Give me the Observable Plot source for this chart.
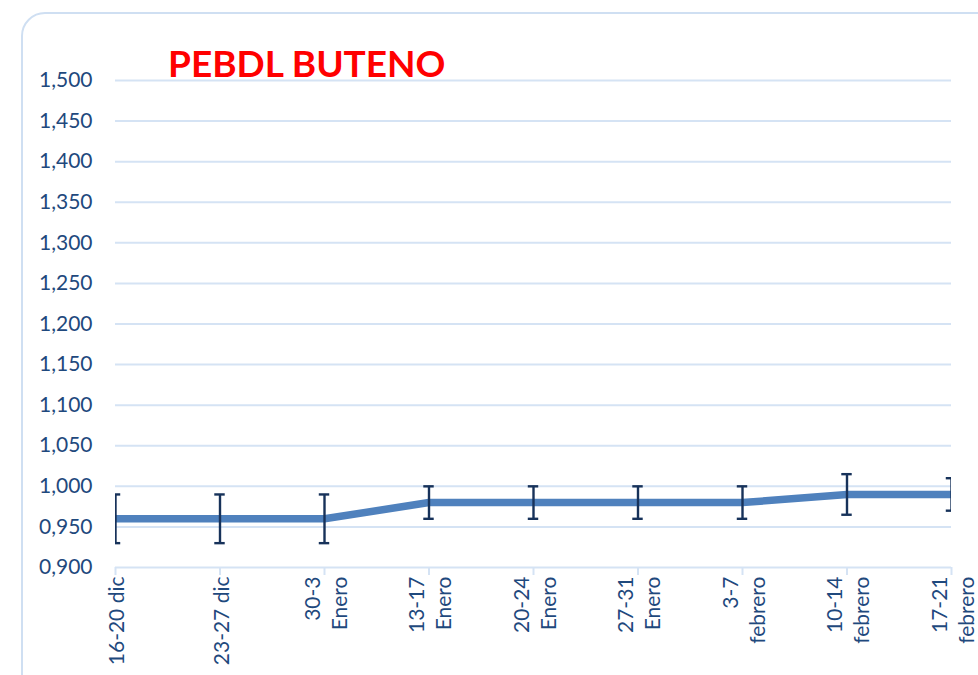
<!DOCTYPE html>
<html>
<head>
<meta charset="utf-8">
<script src="https://cdn.jsdelivr.net/npm/d3@7"></script>
<script src="https://cdn.jsdelivr.net/npm/@observablehq/plot@0.6"></script>
<style>
  html, body { margin: 0; padding: 0; background: #fff; width: 978px; height: 675px; overflow: hidden; }
  #wrap { position: relative; width: 978px; height: 675px; }
  #frame { position: absolute; left: 21px; top: 12px; width: 1000px; height: 700px;
           border: 2px solid #cfdff2; border-radius: 24px; box-sizing: border-box; }
  #title { position: absolute; left: 168px; top: 44px; font-family: Lato, "Open Sans", sans-serif;
           font-weight: 700; font-size: 37px; color: #ff0000; line-height: 1; white-space: nowrap; }
  #chart { position: absolute; left: 0; top: 0; }
</style>
</head>
<body>
<div id="wrap">
  <div id="frame"></div>
  <div id="chart"></div>
  <div id="title">PEBDL BUTENO</div>
</div>
<script>
const weeks = ["16-20 dic", "23-27 dic", "30-3\nEnero", "13-17\nEnero", "20-24\nEnero", "27-31\nEnero", "3-7\nfebrero", "10-14\nfebrero", "17-21\nfebrero"];
const prices = [0.96, 0.96, 0.96, 0.98, 0.98, 0.98, 0.98, 0.99, 0.99];
const lows   = [0.93, 0.93, 0.93, 0.96, 0.96, 0.96, 0.96, 0.965, 0.97];
const highs  = [0.99, 0.99, 0.99, 1.00, 1.00, 1.00, 1.00, 1.015, 1.01];
const yTicks = [0.90, 0.95, 1.00, 1.05, 1.10, 1.15, 1.20, 1.25, 1.30, 1.35, 1.40, 1.45, 1.50];

const data = weeks.map((w, i) => ({i, week: w, price: prices[i], low: lows[i], high: highs[i]}));
const capHalf = 0.05;
const caps = data.flatMap(d => [
  {x1: d.i - capHalf, x2: d.i + capHalf, y: d.low},
  {x1: d.i - capHalf, x2: d.i + capHalf, y: d.high}
]);

const textColor = "#1F497D";
const gridColor = "#d5e3f4";
const barColor = "#17325a";

const chart = Plot.plot({
  width: 978,
  height: 675,
  marginLeft: 115,
  marginRight: 27,
  marginTop: 80,
  marginBottom: 108,
  style: {color: textColor, fontFamily: "Lato, 'Open Sans', sans-serif", fontSize: "21px", background: "transparent"},
  x: {type: "linear", domain: [0, weeks.length - 1], axis: null},
  y: {domain: [0.9, 1.5], axis: null},
  marks: [
    Plot.gridY(yTicks, {stroke: gridColor, strokeOpacity: 1, strokeWidth: 2}),
    Plot.axisY(yTicks, {tickSize: 0, tickPadding: 23, tickFormat: d => d.toFixed(3).replace(".", ","), fill: textColor, fontSize: 21}),
    Plot.axisX(d3.range(weeks.length), {tickSize: 8, tickFormat: () => "", stroke: gridColor, strokeWidth: 2, strokeOpacity: 1}),
    Plot.text(data, {x: "i", frameAnchor: "bottom", dy: 9, text: "week", rotate: -90, textAnchor: "end",
                     lineAnchor: "middle", lineHeight: 1.28, fill: textColor, fontSize: 21}),
    Plot.line(data, {x: "i", y: "price", stroke: "#7f7f7f", strokeWidth: 7, strokeOpacity: 0.6, dy: 4,
                     clip: true, ariaLabel: "shadow"}),
    Plot.line(data, {x: "i", y: "price", stroke: "#4f81bd", strokeWidth: 7.5, strokeLinejoin: "round", clip: true}),
    Plot.ruleX(data, {x: "i", y1: "low", y2: "high", stroke: barColor, strokeWidth: 2.4, clip: true}),
    Plot.ruleY(caps, {x1: "x1", x2: "x2", y: "y", stroke: barColor, strokeWidth: 2.4, clip: true})
  ]
});
document.getElementById("chart").appendChild(chart);
d3.select(chart).selectAll('g[aria-label="shadow"]').style("filter", "blur(2px)");
</script>
</body>
</html>
